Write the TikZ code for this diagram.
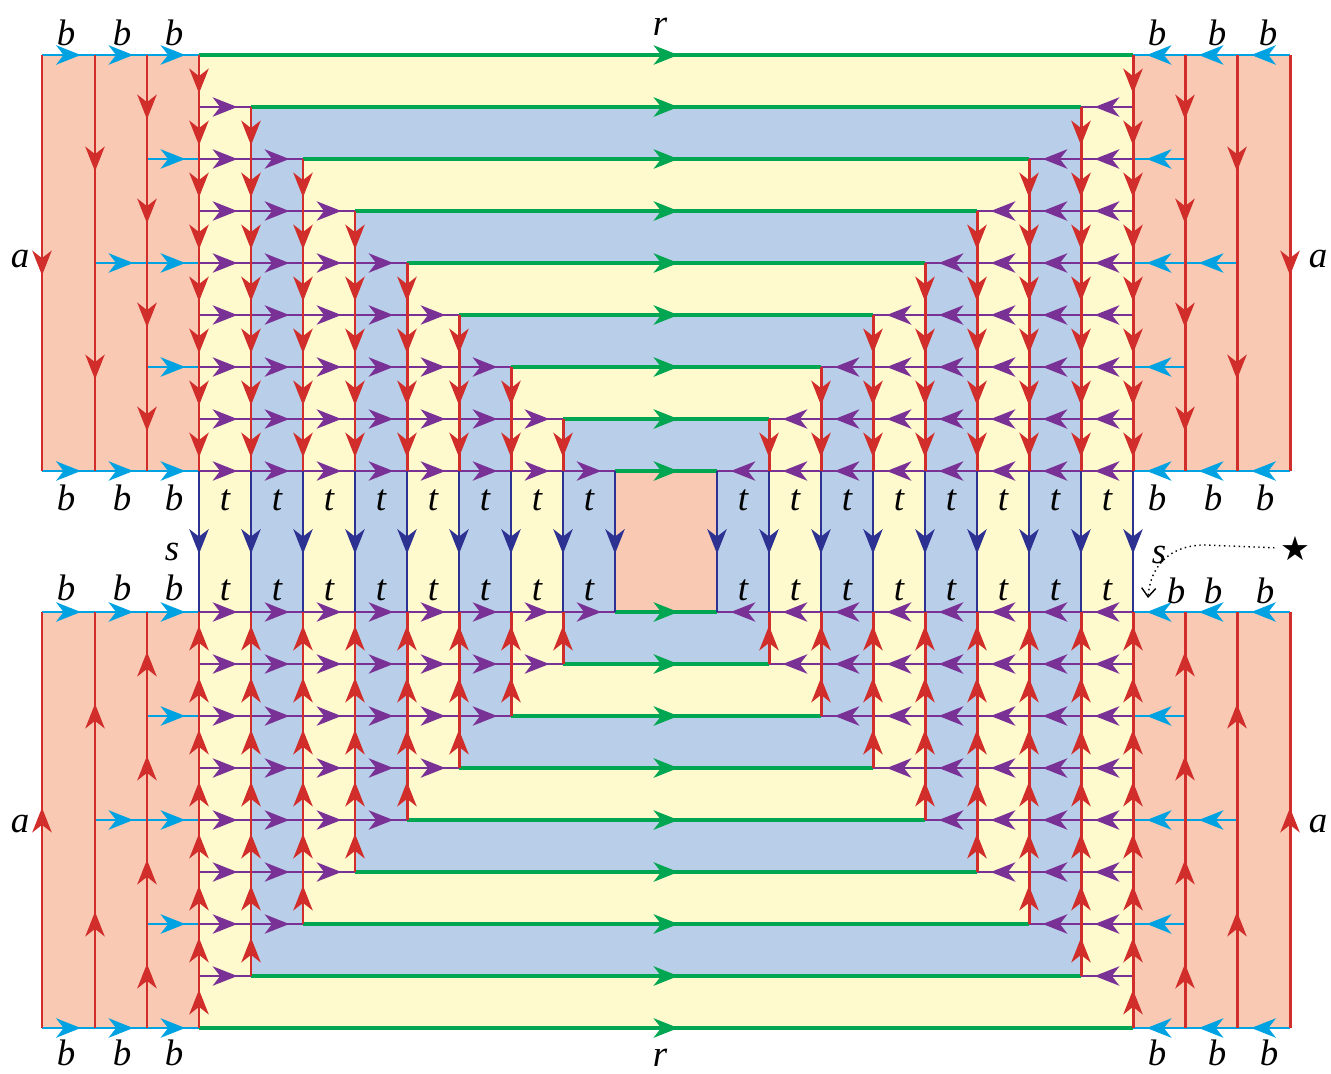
\documentclass[tikz,border=0pt]{standalone}
\usepackage{fontspec}
\setmainfont{Liberation Serif}
\newfontfamily\djv{DejaVu Sans}
\usetikzlibrary{arrows.meta,decorations.markings}
\definecolor{cyel}{RGB}{255,250,205}
\definecolor{cblu}{RGB}{185,206,232}
\definecolor{cpnk}{RGB}{249,201,179}
\definecolor{cred}{RGB}{209,46,43}
\definecolor{cgrn}{RGB}{0,166,81}
\definecolor{ccya}{RGB}{0,162,226}
\definecolor{cpur}{RGB}{122,49,150}
\definecolor{cnav}{RGB}{45,49,146}
\tikzset{
  mtip/.tip={Stealth[length=14pt,width=11pt,inset=4.2pt]},
  midarr/.style={postaction={decorate,decoration={markings,mark=at position 0.5 with {\arrow[xshift=7pt]{mtip}}}}},
  redseg/.style={cred,line width=1.7pt,midarr},
  grnseg/.style={cgrn,line width=1.9pt,midarr},
  purseg/.style={cpur,line width=1.4pt,midarr},
  cyaseg/.style={ccya,line width=1.6pt,midarr},
  navseg/.style={cnav,line width=1.6pt,midarr},
  lab/.style={font=\fontsize{21}{21}\selectfont\itshape,inner sep=0pt,anchor=base},
}
\newcommand\quarterpart{%
  \foreach \k in {1,...,8}{%
    \pgfmathsetmacro\yy{55+52*\k}%
    \pgfmathtruncatemacro\kk{\k-1}%
    \foreach \j in {0,...,\kk}{%
      \pgfmathsetmacro\ua{199+52*\j}%
      \pgfmathsetmacro\ub{251+52*\j}%
      \draw[purseg] (\ua,\yy) -- (\ub,\yy);
    }%
  }%
  \foreach \p/\q/\yy in {42/95/55,95/147/55,147/199/55,42/95/471,95/147/471,147/199/471,147/199/159,95/147/263,147/199/263,147/199/367}
    \draw[cyaseg] (\p,\yy) -- (\q,\yy);
  \foreach \xx/\p/\q in {42/55/471,95/55/263,95/263/471,147/55/159,147/159/263,147/263/367,147/367/471}
    \draw[redseg] (\xx,\p) -- (\xx,\q);
  \foreach \k in {0,...,7}{%
    \pgfmathsetmacro\xx{199+52*\k}%
    \foreach \m in {\k,...,7}{%
      \pgfmathsetmacro\p{55+52*\m}%
      \pgfmathsetmacro\q{107+52*\m}%
      \draw[redseg] (\xx,\p) -- (\xx,\q);
    }%
  }%
}
\begin{document}
\begin{tikzpicture}[x=0.02cm,y=-0.02cm]
\useasboundingbox (0,0) rectangle (1331,1073);
% pink side fills
\fill[cpnk] (42,55) rectangle (199,471);
\fill[cpnk] (42,612) rectangle (199,1028);
\fill[cpnk] (1133,55) rectangle (1290,471);
\fill[cpnk] (1133,612) rectangle (1290,1028);
% nested rectangles
\foreach \k in {0,...,8}{
  \pgfmathsetmacro\xa{199+52*\k}
  \pgfmathsetmacro\xb{1133-52*\k}
  \pgfmathsetmacro\ya{55+52*\k}
  \pgfmathsetmacro\yb{1028-52*\k}
  \pgfmathtruncatemacro\km{mod(\k,2)}
  \ifnum\k=8 \def\cc{cpnk}\else\ifnum\km=0 \def\cc{cyel}\else\def\cc{cblu}\fi\fi
  \fill[\cc] (\xa,\ya) rectangle (\xb,\yb);
}
% green lines
\foreach \k in {0,...,8}{
  \pgfmathsetmacro\xa{199+52*\k}
  \pgfmathsetmacro\xb{1133-52*\k}
  \pgfmathsetmacro\ya{55+52*\k}
  \pgfmathsetmacro\yb{1028-52*\k}
  \draw[grnseg] (\xa,\ya) -- (\xb,\ya);
  \draw[grnseg] (\xa,\yb) -- (\xb,\yb);
}
% four mirrored quarters
\quarterpart
\begin{scope}[shift={(1332,0)},xscale=-1]\quarterpart\end{scope}
\begin{scope}[shift={(0,1083)},yscale=-1]\quarterpart\end{scope}
\begin{scope}[shift={(1332,1083)},scale=-1]\quarterpart\end{scope}
% navy lines in the gap
\foreach \k in {0,...,8}{
  \pgfmathsetmacro\xa{199+52*\k}
  \pgfmathsetmacro\xb{1133-52*\k}
  \draw[navseg] (\xa,471) -- (\xa,612);
  \draw[navseg] (\xb,471) -- (\xb,612);
}
% labels
\node[lab] (rT) at (660,35) {r};
\node[lab] (rB) at (660,1066) {r};
\node[lab] (aTL) at (20,267) {a};
\node[lab] (aTR) at (1318,267) {a};
\node[lab] (aBL) at (20,832) {a};
\node[lab] (aBR) at (1318,832) {a};
\node[lab] (sL) at (172,560) {s};
\node[lab] (sR) at (1159,563) {s};
\foreach \xx/\yy [count=\i] in {66/45,122/45,174/45,66/510,122/510,174/510,66/600,122/600,174/600,66/1065,122/1065,174/1065,1157/45,1217/45,1268/45,1157/510,1213/510,1265/510,1176/603,1213/603,1265/603,1157/1065,1217/1065,1269/1065}
  \node[lab] (b\i) at (\xx,\yy) {b};
\foreach \j in {0,...,7}{
  \pgfmathsetmacro\xa{225+52*\j}
  \pgfmathsetmacro\xb{743+52*\j}
  \node[lab] (tLa\j) at (\xa,510) {t};
  \node[lab] (tLb\j) at (\xa,600) {t};
  \node[lab] (tRa\j) at (\xb,510) {t};
  \node[lab] (tRb\j) at (\xb,600) {t};
}
\node[font=\djv\fontsize{19}{19}\selectfont,inner sep=0pt] (star) at (1295,548) {★};
\coordinate (bend) at (1205,545);
\coordinate (starend) at (1148,598);
\draw[dotted,line width=0.8pt,shorten <=3pt,-{Straight Barb[length=5pt,width=8pt]}] (star.west) -- (bend) .. controls (1168,545) and (1150,568) .. (starend);
\end{tikzpicture}
\end{document}
